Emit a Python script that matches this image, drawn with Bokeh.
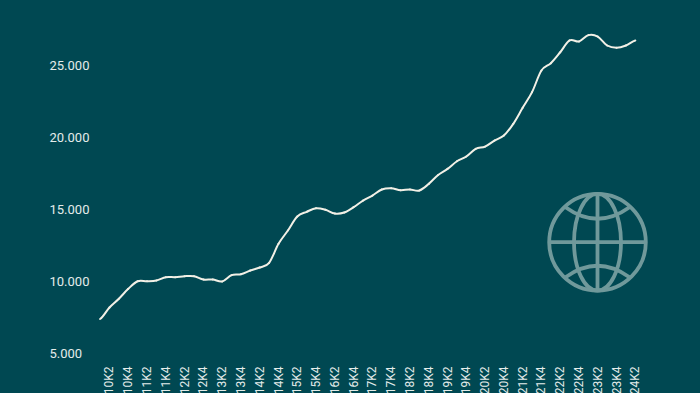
from bokeh.plotting import figure
from bokeh.models import LinearAxis, Range1d, FixedTicker
from bokeh.embed import file_html
from bokeh.resources import INLINE
import math

quarter_labels = [f"{y}K{q}" for y in range(2010, 2025) for q in (1, 2, 3, 4)][:58]
values = [7396, 8194, 8800, 9490, 10020, 10020, 10070, 10300, 10300, 10370,
          10370, 10140, 10140, 10000, 10440, 10500, 10760, 10970, 11300, 12620,
          13540, 14510, 14840, 15090, 14980, 14720, 14790, 15160, 15620, 15970,
          16390, 16480, 16340, 16390, 16320, 16780, 17400, 17820, 18350, 18680,
          19210, 19370, 19790, 20140, 20950, 22060, 23150, 24650, 25160, 25920,
          26740, 26670, 27110, 27010, 26390, 26230, 26390, 26740]
y_ticks = [5000, 10000, 15000, 20000, 25000]
y_labels = ["5.000", "10.000", "15.000", "20.000", "25.000"]

BG = "#004852"
LINE = "#f2f0e6"
TXT = "#e4ecea"
GLOBE = "#70999b"
FONT = "Roboto"

W, H = 700, 393
PX_PER_Q = 9.39
X0 = 99.6
PX_PER_UNIT = 72 / 5000
Y5000 = 353
xi = list(range(len(values)))

p = figure(width=W, height=H, output_backend="svg", toolbar_location=None,
           x_axis_location=None, y_axis_location=None,
           x_range=Range1d(-X0 / PX_PER_Q, (W - X0) / PX_PER_Q),
           y_range=Range1d(5000 - (H - Y5000) / PX_PER_UNIT, 5000 + Y5000 / PX_PER_UNIT),
           background_fill_color=BG, border_fill_color=BG, outline_line_color=None,
           min_border=0)
p.grid.visible = False
p.extra_x_ranges = {"px": Range1d(0, W)}
p.extra_y_ranges = {"px": Range1d(H, 0)}

# smooth curve through the series: each span is one cubic between two data values
n = len(values)
k = 1 / 6
x0, y0, x1, y1, cx0, cy0, cx1, cy1 = [], [], [], [], [], [], [], []
for i in range(n - 1):
    a, b = values[max(i - 1, 0)], values[i]
    c, d = values[i + 1], values[min(i + 2, n - 1)]
    x0.append(i); y0.append(b); x1.append(i + 1); y1.append(c)
    cx0.append(i + 1 / 3); cy0.append(b + (c - a) * k)
    cx1.append(i + 2 / 3); cy1.append(c - (d - b) * k)
p.bezier(x0, y0, x1, y1, cx0, cy0, cx1, cy1, line_color=LINE, line_width=2, line_cap="round")

xa = LinearAxis(fixed_location=5000 - 3 / PX_PER_UNIT,
                ticker=FixedTicker(ticks=xi[1::2]),
                major_label_overrides={i: quarter_labels[i] for i in xi[1::2]},
                major_label_orientation=math.pi / 2,
                major_label_standoff=4, major_tick_line_color=None, minor_tick_line_color=None,
                axis_line_color=None, major_label_text_color=TXT,
                major_label_text_font=FONT, major_label_text_font_size="12px")
p.add_layout(xa, "below")

ya = LinearAxis(fixed_location=(43 - X0) / PX_PER_Q,
                ticker=FixedTicker(ticks=y_ticks),
                major_label_overrides=dict(zip(y_ticks, y_labels)),
                major_label_standoff=0, major_tick_line_color=None, minor_tick_line_color=None,
                axis_line_color=None, major_label_text_color=TXT,
                major_label_text_font=FONT, major_label_text_font_size="13px")
p.add_layout(ya, "right")

kw = dict(x_range_name="px", y_range_name="px", line_color=GLOBE, line_width=3.8, fill_color=None)
cx, cy = 597, 241.7
p.ellipse([cx], [cy], width=96.6, height=96.6, **kw)
p.ellipse([cx], [cy], width=47, height=96.6, **kw)
lk = dict(x_range_name="px", y_range_name="px", line_color=GLOBE, line_width=3.8)
p.segment([cx, cx - 48.3], [cy - 48.3, cy], [cx, cx + 48.3], [cy + 48.3, cy], **lk)
p.quadratic([cx - 32, cx - 32], [cy - 35, cy + 35], [cx + 32, cx + 32], [cy - 35, cy + 35],
            [cx, cx], [cy - 12, cy + 12], **lk)

html = file_html(p, INLINE)
html = html.replace("</head>", f"<style>html,body{{margin:0;padding:0;background:{BG};overflow:hidden}}</style></head>", 1)
open("out.html", "w").write(html)
